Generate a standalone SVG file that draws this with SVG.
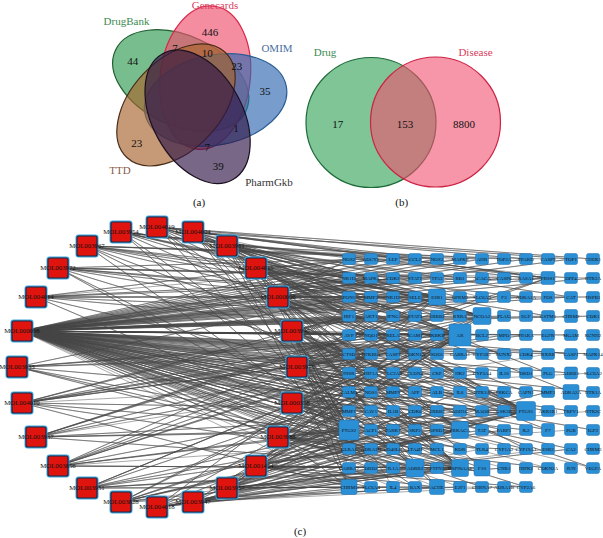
<svg xmlns="http://www.w3.org/2000/svg" xmlns:xlink="http://www.w3.org/1999/xlink" width="603" height="538" viewBox="0 0 603 538">
<style>
.lab{font-family:"Liberation Serif",serif;font-size:11px;text-anchor:middle}
.n{font-family:"Liberation Serif",serif;font-size:11px;text-anchor:middle;fill:#111}
.e{fill:none;stroke:#474747;stroke-width:.6;stroke-opacity:.78;stroke-linejoin:round}
.b{fill:#2b8fd6;stroke:#1c6fae;stroke-width:.5}
.bt{font-family:"Liberation Serif",serif;font-size:5px;text-anchor:middle;fill:#111}
.rt{font-family:"Liberation Serif",serif;font-size:6.8px;text-anchor:middle;fill:#111}
</style>
<defs>
<g id="rn"><rect x="-11.5" y="-11.5" width="23" height="23" rx="3" fill="#3fa6e0"/><rect x="-10" y="-10" width="20" height="20" rx="2" fill="#e0140e" stroke="#1c2a4a" stroke-width="1.2"/></g>
<rect id="bn" class="b" x="-6.5" y="-5.5" width="13" height="11" rx="2"/>
</defs>
<rect width="603" height="538" fill="#fff"/>

<!-- Venn (a) -->
<g id="venn5">
<g id="set-drugbank"><ellipse rx="72" ry="45" transform="translate(180.7 80.6) rotate(25)" fill="#2f9a50" fill-opacity=".65" stroke="#1d5e30" stroke-width="1.2"/></g>
<g id="set-genecards"><ellipse rx="72" ry="45" transform="translate(205.2 77.6) rotate(-83)" fill="#f0506e" fill-opacity=".65" stroke="#d8264a" stroke-width="1.2"/></g>
<g id="set-omim"><ellipse rx="72" ry="45" transform="translate(215.6 100) rotate(-11)" fill="#2f68b0" fill-opacity=".65" stroke="#2a5d94" stroke-width="1.2"/></g>
<g id="set-ttd"><ellipse rx="72" ry="45" transform="translate(176 104.9) rotate(-47)" fill="#a8642c" fill-opacity=".65" stroke="#4a2c18" stroke-width="1.2"/></g>
<g id="set-pharmgkb"><ellipse rx="72" ry="45" transform="translate(197.6 116.8) rotate(61)" fill="#301545" fill-opacity=".65" stroke="#1a1020" stroke-width="1.2"/></g>
<text class="lab" x="126.5" y="24.5" fill="#3d8a50">DrugBank</text>
<text class="lab" x="215" y="8.5" fill="#d9405e">Genecards</text>
<text class="lab" x="277" y="52" fill="#4a6ea0">OMIM</text>
<text class="lab" x="120" y="174" fill="#8a5a4a">TTD</text>
<text class="lab" x="269" y="185.5" fill="#333">PharmGkb</text>
<text class="n" x="210" y="35.5">446</text>
<text class="n" x="175" y="52">7</text>
<text class="n" x="207.3" y="56.5">10</text>
<text class="n" x="132.7" y="65">44</text>
<text class="n" x="236.7" y="70">23</text>
<text class="n" x="265" y="94.5">35</text>
<text class="n" x="136.7" y="146.5">23</text>
<text class="n" x="236" y="132">1</text>
<text class="n" x="207.3" y="150.5">7</text>
<text class="n" x="218.3" y="169.5">39</text>
<text class="n" x="199" y="205.5">(a)</text>
</g>

<!-- Venn (b) -->
<g id="venn2">
<g id="set-drug"><circle cx="371" cy="122.5" r="65" fill="#3aa65e" fill-opacity=".65" stroke="#1e6b3a" stroke-width="1.2"/></g>
<g id="set-disease"><circle cx="435.5" cy="122" r="65" fill="#f0506e" fill-opacity=".6" stroke="#cc2244" stroke-width="1.2"/></g>
<text class="lab" x="325" y="56" fill="#3d8a50">Drug</text>
<text class="lab" x="475.5" y="56" fill="#d9405e">Disease</text>
<text class="n" x="337.7" y="128">17</text>
<text class="n" x="405" y="128">153</text>
<text class="n" x="464" y="128">8800</text>
<text class="n" x="401.7" y="205.5">(b)</text>
</g>

<!-- Network (c) connectors -->
<g id="edges" class="e">
<path d="M22 331L349 259 22 331 349 278 22 331 349 297 22 331 349 316 22 331 349 335 22 331 349 354 22 331 349 373 22 331 349 392 22 331 349 411 22 331 349 430 22 331 349 449 22 331 349 468 22 331 349 487"/>
<path d="M22 331L371 259 22 331 371 278 22 331 371 297 22 331 371 316 22 331 371 335 22 331 371 354 22 331 371 373 22 331 371 392 22 331 371 411 22 331 371 430 22 331 371 449 22 331 371 468 22 331 371 487"/>
<path d="M22 331L393 259 22 331 393 278 22 331 393 297 22 331 393 316 22 331 393 335 22 331 393 354 22 331 393 373 22 331 393 392 22 331 393 411 22 331 393 430 22 331 393 449 22 331 393 468 22 331 393 487"/>
<path d="M22 331L415 259 22 331 415 278 22 331 415 297 22 331 415 316 22 331 415 335 22 331 415 354 22 331 415 373 22 331 415 392 22 331 415 411 22 331 415 430 22 331 415 449 22 331 415 468 22 331 415 487"/>
<path d="M22 331L437 259 22 331 437 278 22 331 437 297 22 331 437 316 22 331 437 335 22 331 437 354 22 331 437 373 22 331 437 392 22 331 437 411 22 331 437 430 22 331 437 449 22 331 437 468 22 331 437 487"/>
<path d="M22 331L460 259 22 331 460 278 22 331 460 297 22 331 460 316 22 331 460 335 22 331 460 354 22 331 460 373 22 331 460 392 22 331 460 411 22 331 460 430 22 331 460 449 22 331 460 468 22 331 460 487"/>
<path d="M22 331L482 259 22 331 482 297 22 331 482 335 22 331 482 373 22 331 482 411 22 331 482 449 22 331 482 487 22 331 504 278 22 331 504 316 22 331 504 354 22 331 504 392 22 331 504 430 22 331 504 468"/>
<path d="M22 331L526 259 22 331 526 297 22 331 526 335 22 331 526 373 22 331 526 411 22 331 526 449 22 331 526 487 22 331 548 278 22 331 548 316 22 331 548 354 22 331 548 392 22 331 548 430 22 331 548 468"/>
<path d="M22 331L571 259 22 331 571 297 22 331 571 335 22 331 571 373 22 331 571 411 22 331 571 449 22 331 593 278 22 331 593 316 22 331 593 354 22 331 593 392 22 331 593 430 22 331 593 468"/>
<path d="M157 227L349 430 157 227 526 411 157 227 460 335 157 227 460 468 157 227 482 316 157 227 437 297 157 227 460 430 157 227 548 278 157 227 593 259 157 227 526 259 157 227 371 278 157 227 415 259 157 227 393 316"/>
<path d="M193 232L349 430 193 232 526 411 193 232 460 335 193 232 482 316 193 232 437 297 193 232 460 430 193 232 415 468 193 232 460 468 193 232 548 278 193 232 571 259 193 232 437 259 193 232 349 297 193 232 482 297"/>
<path d="M227 246L349 430 227 246 526 411 227 246 460 335 227 246 460 468 227 246 482 316 227 246 460 430 227 246 349 487 227 246 437 487 227 246 504 259 227 246 349 278 227 246 415 278 227 246 460 297 227 246 548 373 227 246 393 335 227 246 437 316 227 246 504 411 227 246 571 297 227 246 415 373"/>
<path d="M256 268L349 430 256 268 526 411 256 268 460 335 256 268 460 468 256 268 482 316 256 268 437 297 256 268 571 392 256 268 393 259 256 268 349 316 256 268 437 354 256 268 526 297 256 268 371 411 256 268 371 297 256 268 415 335 256 268 482 392 256 268 548 316 256 268 393 449"/>
<path d="M278 297L349 430 278 297 526 411 278 297 460 335 278 297 460 468 278 297 482 316 278 297 437 297 278 297 460 430 278 297 415 468 278 297 482 468 278 297 349 259 278 297 371 335 278 297 415 392 278 297 504 354 278 297 593 297 278 297 393 278 278 297 437 354 278 297 460 373 278 297 526 392 278 297 349 468"/>
<path d="M292 331L349 430 292 331 526 411 292 331 460 335 292 331 460 468 292 331 437 297 292 331 460 430 292 331 349 487 292 331 548 430 292 331 371 316 292 331 393 373 292 331 437 411 292 331 349 449 292 331 526 449 292 331 349 335 292 331 415 297 292 331 482 411 292 331 571 354 292 331 393 487"/>
<path d="M297 367L349 430 297 367 526 411 297 367 460 335 297 367 460 468 297 367 482 316 297 367 437 297 297 367 415 468 297 367 437 487 297 367 548 278 297 367 349 354 297 367 393 392 297 367 415 430 297 367 371 468 297 367 593 468 297 367 371 316 297 367 437 430 297 367 504 335 297 367 548 411 297 367 349 297"/>
<path d="M292 403L349 430 292 403 526 411 292 403 460 335 292 403 460 468 292 403 482 316 292 403 460 430 292 403 482 468 292 403 349 392 292 403 371 430 292 403 393 449 292 403 415 487 292 403 504 392 292 403 371 354 292 403 437 392 292 403 482 373 292 403 526 430 292 403 393 297"/>
<path d="M278 437L349 430 278 437 526 411 278 437 460 335 278 437 460 468 278 437 437 297 278 437 415 468 278 437 349 487 278 437 349 411 278 437 371 449 278 437 393 468 278 437 437 449 278 437 548 468 278 437 415 373 278 437 349 354 278 437 460 411 278 437 504 449 278 437 593 411"/>
<path d="M256 466L349 430 256 466 526 411 256 466 460 335 256 466 460 468 256 466 460 430 256 466 437 487 256 466 482 468 256 466 349 468 256 466 371 487 256 466 393 430 256 466 526 487 256 466 437 373 256 466 371 411 256 466 415 335 256 466 482 430 256 466 548 392 256 466 349 373"/>
<path d="M227 488L349 430 227 488 526 411 227 488 460 335 227 488 460 468 227 488 482 316 227 488 415 468 227 488 349 487 227 488 349 449 227 488 415 411 227 488 460 392 227 488 571 449 227 488 393 487 227 488 371 449 227 488 437 411 227 488 504 468 227 488 393 354 227 488 349 411"/>
<path d="M193 502L349 430 193 502 526 411 193 502 460 468 193 502 460 335 193 502 460 430 193 502 437 487 193 502 349 468 193 502 371 468 193 502 415 449 193 502 504 487"/>
<path d="M157 507L349 430 157 507 526 411 157 507 460 335 157 507 460 468 157 507 437 297 157 507 415 468 157 507 349 487 157 507 371 487 157 507 437 468 157 507 482 449"/>
<path d="M121 502L349 430 121 502 526 411 121 502 460 335 121 502 460 468 121 502 482 316 121 502 460 430 121 502 349 449 121 502 393 411 121 502 460 487 121 502 548 449"/>
<path d="M87 488L349 430 87 488 526 411 87 488 460 335 87 488 460 468 87 488 415 468 87 488 437 487 87 488 371 392 87 488 415 354 87 488 504 430 87 488 526 487"/>
<path d="M58 466L349 430 58 466 526 411 58 466 460 335 58 466 460 468 58 466 482 316 58 466 437 297 58 466 482 468 58 466 349 373 58 466 393 335 58 466 437 392 58 466 571 430"/>
<path d="M36 437L349 430 36 437 526 411 36 437 460 335 36 437 460 468 36 437 460 430 36 437 548 278 36 437 349 335 36 437 371 373 36 437 415 316 36 437 548 354"/>
<path d="M22 403L349 430 22 403 526 411 22 403 460 335 22 403 460 468 22 403 482 316 22 403 437 297 22 403 349 487 22 403 349 316 22 403 393 354 22 403 437 335 22 403 526 335 22 403 593 373"/>
<path d="M17 367L349 430 17 367 526 411 17 367 460 335 17 367 460 468 17 367 415 468 17 367 349 297 17 367 371 354 17 367 415 335 17 367 482 354"/>
<path d="M36 297L349 430 36 297 526 411 36 297 460 335 36 297 482 316 36 297 437 297 36 297 548 278 36 297 349 259 36 297 371 297 36 297 415 278 36 297 460 259"/>
<path d="M58 268L349 430 58 268 526 411 58 268 460 335 58 268 460 468 58 268 482 316 58 268 437 297 58 268 371 259 58 268 393 297 58 268 437 278 58 268 504 278 58 268 593 278"/>
<path d="M87 246L349 430 87 246 526 411 87 246 460 335 87 246 482 316 87 246 437 297 87 246 460 430 87 246 349 278 87 246 393 278 87 246 437 259 87 246 482 259 87 246 548 259"/>
<path d="M121 232L349 430 121 232 526 411 121 232 460 335 121 232 460 468 121 232 482 316 121 232 437 297 121 232 548 278 121 232 371 259 121 232 415 297 121 232 460 278 121 232 526 278 121 232 571 278"/>
</g>

<!-- Compound nodes -->
<g id="compounds">
<g id="MOL004019"><use xlink:href="#rn" href="#rn" x="157" y="227"/><text class="rt" x="157" y="229.3">MOL004019</text></g>
<g id="MOL004004"><use xlink:href="#rn" href="#rn" x="193" y="232"/><text class="rt" x="193" y="234.3">MOL004004</text></g>
<g id="MOL003961"><use xlink:href="#rn" href="#rn" x="227" y="246"/><text class="rt" x="227" y="248.3">MOL003961</text></g>
<g id="MOL004015"><use xlink:href="#rn" href="#rn" x="256" y="268"/><text class="rt" x="256" y="270.3">MOL004015</text></g>
<g id="MOL000006"><use xlink:href="#rn" href="#rn" x="278" y="297"/><text class="rt" x="278" y="299.3">MOL000006</text></g>
<g id="MOL003990"><use xlink:href="#rn" href="#rn" x="292" y="331"/><text class="rt" x="292" y="333.3">MOL003990</text></g>
<g id="MOL003975"><use xlink:href="#rn" href="#rn" x="297" y="367"/><text class="rt" x="297" y="369.3">MOL003975</text></g>
<g id="MOL000358"><use xlink:href="#rn" href="#rn" x="292" y="403"/><text class="rt" x="292" y="405.3">MOL000358</text></g>
<g id="MOL003988"><use xlink:href="#rn" href="#rn" x="278" y="437"/><text class="rt" x="278" y="439.3">MOL003988</text></g>
<g id="MOL001454"><use xlink:href="#rn" href="#rn" x="256" y="466"/><text class="rt" x="256" y="468.3">MOL001454</text></g>
<g id="MOL003957"><use xlink:href="#rn" href="#rn" x="227" y="488"/><text class="rt" x="227" y="490.3">MOL003957</text></g>
<g id="MOL003947"><use xlink:href="#rn" href="#rn" x="193" y="502"/><text class="rt" x="193" y="504.3">MOL003947</text></g>
<g id="MOL004018"><use xlink:href="#rn" href="#rn" x="157" y="507"/><text class="rt" x="157" y="509.3">MOL004018</text></g>
<g id="MOL003828"><use xlink:href="#rn" href="#rn" x="121" y="502"/><text class="rt" x="121" y="504.3">MOL003828</text></g>
<g id="MOL003951"><use xlink:href="#rn" href="#rn" x="87" y="488"/><text class="rt" x="87" y="490.3">MOL003951</text></g>
<g id="MOL003856"><use xlink:href="#rn" href="#rn" x="58" y="466"/><text class="rt" x="58" y="468.3">MOL003856</text></g>
<g id="MOL003937"><use xlink:href="#rn" href="#rn" x="36" y="437"/><text class="rt" x="36" y="439.3">MOL003937</text></g>
<g id="MOL004010"><use xlink:href="#rn" href="#rn" x="22" y="403"/><text class="rt" x="22" y="405.3">MOL004010</text></g>
<g id="MOL003933"><use xlink:href="#rn" href="#rn" x="17" y="367"/><text class="rt" x="17" y="369.3">MOL003933</text></g>
<g id="MOL000098"><use xlink:href="#rn" href="#rn" x="22" y="331"/><text class="rt" x="22" y="333.3">MOL000098</text></g>
<g id="MOL004014"><use xlink:href="#rn" href="#rn" x="36" y="297"/><text class="rt" x="36" y="299.3">MOL004014</text></g>
<g id="MOL003972"><use xlink:href="#rn" href="#rn" x="58" y="268"/><text class="rt" x="58" y="270.3">MOL003972</text></g>
<g id="MOL003967"><use xlink:href="#rn" href="#rn" x="87" y="246"/><text class="rt" x="87" y="248.3">MOL003967</text></g>
<g id="MOL003954"><use xlink:href="#rn" href="#rn" x="121" y="232"/><text class="rt" x="121" y="234.3">MOL003954</text></g>
</g>

<!-- Target nodes -->
<g id="targets">
<g id="t_NOS2"><use href="#bn" xlink:href="#bn" x="349" y="259"/><text class="bt" x="349" y="260.8">NOS2</text></g>
<g id="t_ADCY2"><use href="#bn" xlink:href="#bn" x="371" y="259"/><text class="bt" x="371" y="260.8">ADCY2</text></g>
<g id="t_LEP"><use href="#bn" xlink:href="#bn" x="393" y="259"/><text class="bt" x="393" y="260.8">LEP</text></g>
<g id="t_CCL2"><use href="#bn" xlink:href="#bn" x="415" y="259"/><text class="bt" x="415" y="260.8">CCL2</text></g>
<g id="t_NOS3"><use href="#bn" xlink:href="#bn" x="437" y="259"/><text class="bt" x="437" y="260.8">NOS3</text></g>
<g id="t_MAPK8"><use href="#bn" xlink:href="#bn" x="460" y="259"/><text class="bt" x="460" y="260.8">MAPK8</text></g>
<g id="t_AHR"><use href="#bn" xlink:href="#bn" x="482" y="259"/><text class="bt" x="482" y="260.8">AHR</text></g>
<g id="t_TOP2A"><use href="#bn" xlink:href="#bn" x="504" y="259"/><text class="bt" x="504" y="260.8">TOP2A</text></g>
<g id="t_PPARD"><use href="#bn" xlink:href="#bn" x="526" y="259"/><text class="bt" x="526" y="260.8">PPARD</text></g>
<g id="t_CASP9"><use href="#bn" xlink:href="#bn" x="548" y="259"/><text class="bt" x="548" y="260.8">CASP9</text></g>
<g id="t_TOP1"><use href="#bn" xlink:href="#bn" x="571" y="259"/><text class="bt" x="571" y="260.8">TOP1</text></g>
<g id="t_CHEK1"><use href="#bn" xlink:href="#bn" x="593" y="259"/><text class="bt" x="593" y="260.8">CHEK1</text></g>

<g id="t_NR1I3"><use href="#bn" xlink:href="#bn" x="349" y="278"/><text class="bt" x="349" y="279.8">NR1I3</text></g>
<g id="t_MAPK1"><use href="#bn" xlink:href="#bn" x="371" y="278"/><text class="bt" x="371" y="279.8">MAPK1</text></g>
<g id="t_CDK2"><use href="#bn" xlink:href="#bn" x="393" y="278"/><text class="bt" x="393" y="279.8">CDK2</text></g>
<g id="t_STAT1"><use href="#bn" xlink:href="#bn" x="415" y="278"/><text class="bt" x="415" y="279.8">STAT1</text></g>
<g id="t_TP53"><use href="#bn" xlink:href="#bn" x="437" y="278"/><text class="bt" x="437" y="279.8">TP53</text></g>
<g id="t_RB1"><use href="#bn" xlink:href="#bn" x="460" y="278"/><text class="bt" x="460" y="279.8">RB1</text></g>
<g id="t_ACACA"><use href="#bn" xlink:href="#bn" x="482" y="278"/><text class="bt" x="482" y="279.8">ACACA</text></g>
<g id="t_CASP8"><use href="#bn" xlink:href="#bn" x="504" y="278"/><text class="bt" x="504" y="279.8">CASP8</text></g>
<g id="t_RASA1"><use href="#bn" xlink:href="#bn" x="526" y="278"/><text class="bt" x="526" y="279.8">RASA1</text></g>
<g id="t_PRSS1"><rect class="b" x="541" y="271.5" width="14" height="13" rx="2"/><text class="bt" x="548" y="279.8">PRSS1</text></g>
<g id="t_DPP4"><use href="#bn" xlink:href="#bn" x="571" y="278"/><text class="bt" x="571" y="279.8">DPP4</text></g>
<g id="t_HTR2A"><use href="#bn" xlink:href="#bn" x="593" y="278"/><text class="bt" x="593" y="279.8">HTR2A</text></g>

<g id="t_PON1"><use href="#bn" xlink:href="#bn" x="349" y="297"/><text class="bt" x="349" y="298.8">PON1</text></g>
<g id="t_MMP2"><use href="#bn" xlink:href="#bn" x="371" y="297"/><text class="bt" x="371" y="298.8">MMP2</text></g>
<g id="t_NR1I2"><use href="#bn" xlink:href="#bn" x="393" y="297"/><text class="bt" x="393" y="298.8">NR1I2</text></g>
<g id="t_SELE"><use href="#bn" xlink:href="#bn" x="415" y="297"/><text class="bt" x="415" y="298.8">SELE</text></g>
<g id="t_ESR1"><rect class="b" x="428.5" y="289" width="17" height="16" rx="2"/><text class="bt" x="437" y="298.8">ESR1</text></g>
<g id="t_OPRM1"><use href="#bn" xlink:href="#bn" x="460" y="297"/><text class="bt" x="460" y="298.8">OPRM1</text></g>
<g id="t_SLC6A3"><use href="#bn" xlink:href="#bn" x="482" y="297"/><text class="bt" x="482" y="298.8">SLC6A3</text></g>
<g id="t_F3"><use href="#bn" xlink:href="#bn" x="504" y="297"/><text class="bt" x="504" y="298.8">F3</text></g>
<g id="t_ADRA1A"><use href="#bn" xlink:href="#bn" x="526" y="297"/><text class="bt" x="526" y="298.8">ADRA1A</text></g>
<g id="t_FOS"><use href="#bn" xlink:href="#bn" x="548" y="297"/><text class="bt" x="548" y="298.8">FOS</text></g>
<g id="t_CAT"><use href="#bn" xlink:href="#bn" x="571" y="297"/><text class="bt" x="571" y="298.8">CAT</text></g>
<g id="t_HSPB1"><use href="#bn" xlink:href="#bn" x="593" y="297"/><text class="bt" x="593" y="298.8">HSPB1</text></g>

<g id="t_IRF1"><use href="#bn" xlink:href="#bn" x="349" y="316"/><text class="bt" x="349" y="317.8">IRF1</text></g>
<g id="t_AKT1"><use href="#bn" xlink:href="#bn" x="371" y="316"/><text class="bt" x="371" y="317.8">AKT1</text></g>
<g id="t_IFNG"><use href="#bn" xlink:href="#bn" x="393" y="316"/><text class="bt" x="393" y="317.8">IFNG</text></g>
<g id="t_STAT3"><use href="#bn" xlink:href="#bn" x="415" y="316"/><text class="bt" x="415" y="317.8">STAT3</text></g>
<g id="t_ERBB2"><use href="#bn" xlink:href="#bn" x="437" y="316"/><text class="bt" x="437" y="317.8">ERBB2</text></g>
<g id="t_RXRA"><use href="#bn" xlink:href="#bn" x="460" y="316"/><text class="bt" x="460" y="317.8">RXRA</text></g>
<g id="t_NCOA2"><rect class="b" x="473" y="307.5" width="18" height="17" rx="2"/><text class="bt" x="482" y="317.8">NCOA2</text></g>
<g id="t_PLAU"><use href="#bn" xlink:href="#bn" x="504" y="316"/><text class="bt" x="504" y="317.8">PLAU</text></g>
<g id="t_EGF"><use href="#bn" xlink:href="#bn" x="526" y="316"/><text class="bt" x="526" y="317.8">EGF</text></g>
<g id="t_GSTM1"><use href="#bn" xlink:href="#bn" x="548" y="316"/><text class="bt" x="548" y="317.8">GSTM1</text></g>
<g id="t_CHRM2"><rect class="b" x="564.5" y="309.5" width="13" height="13" rx="2"/><text class="bt" x="571" y="317.8">CHRM2</text></g>
<g id="t_CDK1"><use href="#bn" xlink:href="#bn" x="593" y="316"/><text class="bt" x="593" y="317.8">CDK1</text></g>

<g id="t_AVP"><use href="#bn" xlink:href="#bn" x="349" y="335"/><text class="bt" x="349" y="336.8">AVP</text></g>
<g id="t_NQO1"><use href="#bn" xlink:href="#bn" x="371" y="335"/><text class="bt" x="371" y="336.8">NQO1</text></g>
<g id="t_RELA"><use href="#bn" xlink:href="#bn" x="393" y="335"/><text class="bt" x="393" y="336.8">RELA</text></g>
<g id="t_ICAM1"><use href="#bn" xlink:href="#bn" x="415" y="335"/><text class="bt" x="415" y="336.8">ICAM1</text></g>
<g id="t_IKBKB"><use href="#bn" xlink:href="#bn" x="437" y="335"/><text class="bt" x="437" y="336.8">IKBKB</text></g>
<g id="t_AR"><rect class="b" x="449" y="324" width="22" height="22" rx="2"/><text class="bt" x="460" y="336.8">AR</text></g>
<g id="t_BCL2"><use href="#bn" xlink:href="#bn" x="482" y="335"/><text class="bt" x="482" y="336.8">BCL2</text></g>
<g id="t_MPO"><use href="#bn" xlink:href="#bn" x="504" y="335"/><text class="bt" x="504" y="336.8">MPO</text></g>
<g id="t_PPARA"><use href="#bn" xlink:href="#bn" x="526" y="335"/><text class="bt" x="526" y="336.8">PPARA</text></g>
<g id="t_EGFR"><use href="#bn" xlink:href="#bn" x="548" y="335"/><text class="bt" x="548" y="336.8">EGFR</text></g>
<g id="t_MGAM"><use href="#bn" xlink:href="#bn" x="571" y="335"/><text class="bt" x="571" y="336.8">MGAM</text></g>
<g id="t_KCNH2"><use href="#bn" xlink:href="#bn" x="593" y="335"/><text class="bt" x="593" y="336.8">KCNH2</text></g>

<g id="t_CTSD"><use href="#bn" xlink:href="#bn" x="349" y="354"/><text class="bt" x="349" y="355.8">CTSD</text></g>
<g id="t_NFKBIA"><use href="#bn" xlink:href="#bn" x="371" y="354"/><text class="bt" x="371" y="355.8">NFKBIA</text></g>
<g id="t_CASP7"><use href="#bn" xlink:href="#bn" x="393" y="354"/><text class="bt" x="393" y="355.8">CASP7</text></g>
<g id="t_CDKN1A"><use href="#bn" xlink:href="#bn" x="415" y="354"/><text class="bt" x="415" y="355.8">CDKN1A</text></g>
<g id="t_SOD1"><use href="#bn" xlink:href="#bn" x="437" y="354"/><text class="bt" x="437" y="355.8">SOD1</text></g>
<g id="t_GABRA1"><use href="#bn" xlink:href="#bn" x="460" y="354"/><text class="bt" x="460" y="355.8">GABRA1</text></g>
<g id="t_CYP1B1"><use href="#bn" xlink:href="#bn" x="482" y="354"/><text class="bt" x="482" y="355.8">CYP1B1</text></g>
<g id="t_RUNX2"><use href="#bn" xlink:href="#bn" x="504" y="354"/><text class="bt" x="504" y="355.8">RUNX2</text></g>
<g id="t_CDK4"><use href="#bn" xlink:href="#bn" x="526" y="354"/><text class="bt" x="526" y="355.8">CDK4</text></g>
<g id="t_RXRB"><use href="#bn" xlink:href="#bn" x="548" y="354"/><text class="bt" x="548" y="355.8">RXRB</text></g>
<g id="t_CASP1"><use href="#bn" xlink:href="#bn" x="571" y="354"/><text class="bt" x="571" y="355.8">CASP1</text></g>
<g id="t_MAPK14"><use href="#bn" xlink:href="#bn" x="593" y="354"/><text class="bt" x="593" y="355.8">MAPK14</text></g>

<g id="t_INSR"><use href="#bn" xlink:href="#bn" x="349" y="373"/><text class="bt" x="349" y="374.8">INSR</text></g>
<g id="t_HIF1A"><use href="#bn" xlink:href="#bn" x="371" y="373"/><text class="bt" x="371" y="374.8">HIF1A</text></g>
<g id="t_SLC2A4"><use href="#bn" xlink:href="#bn" x="393" y="373"/><text class="bt" x="393" y="374.8">SLC2A4</text></g>
<g id="t_CLDN4"><use href="#bn" xlink:href="#bn" x="415" y="373"/><text class="bt" x="415" y="374.8">CLDN4</text></g>
<g id="t_CRP"><use href="#bn" xlink:href="#bn" x="437" y="373"/><text class="bt" x="437" y="374.8">CRP</text></g>
<g id="t_HK2"><use href="#bn" xlink:href="#bn" x="460" y="373"/><text class="bt" x="460" y="374.8">HK2</text></g>
<g id="t_CYP3A4"><use href="#bn" xlink:href="#bn" x="482" y="373"/><text class="bt" x="482" y="374.8">CYP3A4</text></g>
<g id="t_IL10"><use href="#bn" xlink:href="#bn" x="504" y="373"/><text class="bt" x="504" y="374.8">IL10</text></g>
<g id="t_DRD1"><use href="#bn" xlink:href="#bn" x="526" y="373"/><text class="bt" x="526" y="374.8">DRD1</text></g>
<g id="t_PLG"><use href="#bn" xlink:href="#bn" x="548" y="373"/><text class="bt" x="548" y="374.8">PLG</text></g>
<g id="t_ADRB1"><rect class="b" x="564.5" y="367" width="13" height="12" rx="2"/><text class="bt" x="571" y="374.8">ADRB1</text></g>
<g id="t_SLC6A2"><use href="#bn" xlink:href="#bn" x="593" y="373"/><text class="bt" x="593" y="374.8">SLC6A2</text></g>

<g id="t_CALM1"><use href="#bn" xlink:href="#bn" x="349" y="392"/><text class="bt" x="349" y="393.8">CALM1</text></g>
<g id="t_NOS1"><use href="#bn" xlink:href="#bn" x="371" y="392"/><text class="bt" x="371" y="393.8">NOS1</text></g>
<g id="t_MMP9"><use href="#bn" xlink:href="#bn" x="393" y="392"/><text class="bt" x="393" y="393.8">MMP9</text></g>
<g id="t_APP"><use href="#bn" xlink:href="#bn" x="415" y="392"/><text class="bt" x="415" y="393.8">APP</text></g>
<g id="t_ALB"><use href="#bn" xlink:href="#bn" x="437" y="392"/><text class="bt" x="437" y="393.8">ALB</text></g>
<g id="t_IL6"><use href="#bn" xlink:href="#bn" x="460" y="392"/><text class="bt" x="460" y="393.8">IL6</text></g>
<g id="t_HTR3A"><use href="#bn" xlink:href="#bn" x="482" y="392"/><text class="bt" x="482" y="393.8">HTR3A</text></g>
<g id="t_PRKCA"><use href="#bn" xlink:href="#bn" x="504" y="392"/><text class="bt" x="504" y="393.8">PRKCA</text></g>
<g id="t_CAPN1"><use href="#bn" xlink:href="#bn" x="526" y="392"/><text class="bt" x="526" y="393.8">CAPN1</text></g>
<g id="t_MMP3"><use href="#bn" xlink:href="#bn" x="548" y="392"/><text class="bt" x="548" y="393.8">MMP3</text></g>
<g id="t_ADRA2A"><rect class="b" x="563" y="384.5" width="16" height="15" rx="2"/><text class="bt" x="571" y="393.8">ADRA2A</text></g>
<g id="t_HTR1A"><use href="#bn" xlink:href="#bn" x="593" y="392"/><text class="bt" x="593" y="393.8">HTR1A</text></g>

<g id="t_MMP1"><use href="#bn" xlink:href="#bn" x="349" y="411"/><text class="bt" x="349" y="412.8">MMP1</text></g>
<g id="t_CAV1"><use href="#bn" xlink:href="#bn" x="371" y="411"/><text class="bt" x="371" y="412.8">CAV1</text></g>
<g id="t_IL1B"><use href="#bn" xlink:href="#bn" x="393" y="411"/><text class="bt" x="393" y="412.8">IL1B</text></g>
<g id="t_CDK6"><use href="#bn" xlink:href="#bn" x="415" y="411"/><text class="bt" x="415" y="412.8">CDK6</text></g>
<g id="t_ERBB3"><use href="#bn" xlink:href="#bn" x="437" y="411"/><text class="bt" x="437" y="412.8">ERBB3</text></g>
<g id="t_ADH1C"><use href="#bn" xlink:href="#bn" x="460" y="411"/><text class="bt" x="460" y="412.8">ADH1C</text></g>
<g id="t_MAOB"><use href="#bn" xlink:href="#bn" x="482" y="411"/><text class="bt" x="482" y="412.8">MAOB</text></g>
<g id="t_GSK3B"><use href="#bn" xlink:href="#bn" x="504" y="411"/><text class="bt" x="504" y="412.8">GSK3B</text></g>
<g id="t_PTGS1"><rect class="b" x="516.5" y="401.5" width="19" height="19" rx="2"/><text class="bt" x="526" y="412.8">PTGS1</text></g>
<g id="t_AKR1B1"><use href="#bn" xlink:href="#bn" x="548" y="411"/><text class="bt" x="548" y="412.8">AKR1B1</text></g>
<g id="t_TRPV1"><use href="#bn" xlink:href="#bn" x="571" y="411"/><text class="bt" x="571" y="412.8">TRPV1</text></g>
<g id="t_HTR2C"><use href="#bn" xlink:href="#bn" x="593" y="411"/><text class="bt" x="593" y="412.8">HTR2C</text></g>

<g id="t_PTGS2"><rect class="b" x="339" y="420" width="20" height="20" rx="2"/><text class="bt" x="349" y="431.8">PTGS2</text></g>
<g id="t_ACP1"><use href="#bn" xlink:href="#bn" x="371" y="430"/><text class="bt" x="371" y="431.8">ACP1</text></g>
<g id="t_PARK7"><use href="#bn" xlink:href="#bn" x="393" y="430"/><text class="bt" x="393" y="431.8">PARK7</text></g>
<g id="t_SKP2"><use href="#bn" xlink:href="#bn" x="415" y="430"/><text class="bt" x="415" y="431.8">SKP2</text></g>
<g id="t_OPRD1"><use href="#bn" xlink:href="#bn" x="437" y="430"/><text class="bt" x="437" y="431.8">OPRD1</text></g>
<g id="t_PRKACA"><rect class="b" x="451.5" y="421.5" width="17" height="17" rx="2"/><text class="bt" x="460" y="431.8">PRKACA</text></g>
<g id="t_TAT"><use href="#bn" xlink:href="#bn" x="482" y="430"/><text class="bt" x="482" y="431.8">TAT</text></g>
<g id="t_PARP1"><use href="#bn" xlink:href="#bn" x="504" y="430"/><text class="bt" x="504" y="431.8">PARP1</text></g>
<g id="t_IL2"><use href="#bn" xlink:href="#bn" x="526" y="430"/><text class="bt" x="526" y="431.8">IL2</text></g>
<g id="t_F7"><rect class="b" x="541.5" y="423.5" width="13" height="13" rx="2"/><text class="bt" x="548" y="431.8">F7</text></g>
<g id="t_PGR"><use href="#bn" xlink:href="#bn" x="571" y="430"/><text class="bt" x="571" y="431.8">PGR</text></g>
<g id="t_IGF2"><use href="#bn" xlink:href="#bn" x="593" y="430"/><text class="bt" x="593" y="431.8">IGF2</text></g>

<g id="t_GLRA1"><use href="#bn" xlink:href="#bn" x="349" y="449"/><text class="bt" x="349" y="450.8">GLRA1</text></g>
<g id="t_ADRA1D"><use href="#bn" xlink:href="#bn" x="371" y="449"/><text class="bt" x="371" y="450.8">ADRA1D</text></g>
<g id="t_CD40LG"><use href="#bn" xlink:href="#bn" x="393" y="449"/><text class="bt" x="393" y="450.8">CD40LG</text></g>
<g id="t_LTA4H"><use href="#bn" xlink:href="#bn" x="415" y="449"/><text class="bt" x="415" y="450.8">LTA4H</text></g>
<g id="t_MCL1"><use href="#bn" xlink:href="#bn" x="437" y="449"/><text class="bt" x="437" y="450.8">MCL1</text></g>
<g id="t_KDR"><use href="#bn" xlink:href="#bn" x="460" y="449"/><text class="bt" x="460" y="450.8">KDR</text></g>
<g id="t_TLR4"><use href="#bn" xlink:href="#bn" x="482" y="449"/><text class="bt" x="482" y="450.8">TLR4</text></g>
<g id="t_CYP1A2"><use href="#bn" xlink:href="#bn" x="504" y="449"/><text class="bt" x="504" y="450.8">CYP1A2</text></g>
<g id="t_CYP19A1"><use href="#bn" xlink:href="#bn" x="526" y="449"/><text class="bt" x="526" y="450.8">CYP19A1</text></g>
<g id="t_ESR2"><use href="#bn" xlink:href="#bn" x="548" y="449"/><text class="bt" x="548" y="450.8">ESR2</text></g>
<g id="t_CA2"><use href="#bn" xlink:href="#bn" x="571" y="449"/><text class="bt" x="571" y="450.8">CA2</text></g>
<g id="t_CHRM3"><use href="#bn" xlink:href="#bn" x="593" y="449"/><text class="bt" x="593" y="450.8">CHRM3</text></g>

<g id="t_GABRA2"><use href="#bn" xlink:href="#bn" x="349" y="468"/><text class="bt" x="349" y="469.8">GABRA2</text></g>
<g id="t_DRD2"><use href="#bn" xlink:href="#bn" x="371" y="468"/><text class="bt" x="371" y="469.8">DRD2</text></g>
<g id="t_IL1A"><use href="#bn" xlink:href="#bn" x="393" y="468"/><text class="bt" x="393" y="469.8">IL1A</text></g>
<g id="t_ADRB2"><rect class="b" x="406" y="459" width="18" height="18" rx="2"/><text class="bt" x="415" y="469.8">ADRB2</text></g>
<g id="t_PTPN1"><use href="#bn" xlink:href="#bn" x="437" y="468"/><text class="bt" x="437" y="469.8">PTPN1</text></g>
<g id="t_HSP90AA1"><rect class="b" x="451.5" y="459.5" width="17" height="17" rx="2"/><text class="bt" x="460" y="469.8">HSP90AA1</text></g>
<g id="t_F10"><rect class="b" x="474" y="460" width="16" height="16" rx="2"/><text class="bt" x="482" y="469.8">F10</text></g>
<g id="t_CNR1"><use href="#bn" xlink:href="#bn" x="504" y="468"/><text class="bt" x="504" y="469.8">CNR1</text></g>
<g id="t_HIPK2"><use href="#bn" xlink:href="#bn" x="526" y="468"/><text class="bt" x="526" y="469.8">HIPK2</text></g>
<g id="t_CDKN2A"><use href="#bn" xlink:href="#bn" x="548" y="468"/><text class="bt" x="548" y="469.8">CDKN2A</text></g>
<g id="t_JUN"><use href="#bn" xlink:href="#bn" x="571" y="468"/><text class="bt" x="571" y="469.8">JUN</text></g>
<g id="t_VEGFA"><use href="#bn" xlink:href="#bn" x="593" y="468"/><text class="bt" x="593" y="469.8">VEGFA</text></g>

<g id="t_CHRM1"><rect class="b" x="341" y="479.5" width="16" height="15" rx="2"/><text class="bt" x="349" y="488.8">CHRM1</text></g>
<g id="t_SLC6A4"><use href="#bn" xlink:href="#bn" x="371" y="487"/><text class="bt" x="371" y="488.8">SLC6A4</text></g>
<g id="t_IL4"><use href="#bn" xlink:href="#bn" x="393" y="487"/><text class="bt" x="393" y="488.8">IL4</text></g>
<g id="t_BAX"><use href="#bn" xlink:href="#bn" x="415" y="487"/><text class="bt" x="415" y="488.8">BAX</text></g>
<g id="t_ACHE"><rect class="b" x="429.5" y="479.5" width="15" height="15" rx="2"/><text class="bt" x="437" y="488.8">ACHE</text></g>
<g id="t_E2F1"><use href="#bn" xlink:href="#bn" x="460" y="487"/><text class="bt" x="460" y="488.8">E2F1</text></g>
<g id="t_CHRNA7"><use href="#bn" xlink:href="#bn" x="482" y="487"/><text class="bt" x="482" y="488.8">CHRNA7</text></g>
<g id="t_ADRA1B"><use href="#bn" xlink:href="#bn" x="504" y="487"/><text class="bt" x="504" y="488.8">ADRA1B</text></g>
<g id="t_CYP2A6"><use href="#bn" xlink:href="#bn" x="526" y="487"/><text class="bt" x="526" y="488.8">CYP2A6</text></g>
</g>

<text class="n" x="300" y="534.5">(c)</text>
</svg>
